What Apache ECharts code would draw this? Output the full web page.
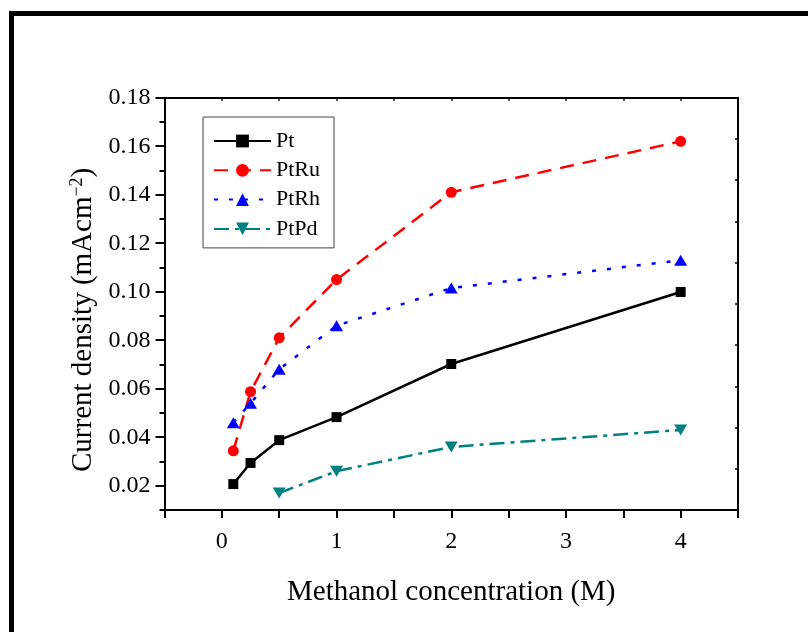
<!DOCTYPE html>
<html>
<head>
<meta charset="utf-8">
<script src="https://cdn.jsdelivr.net/npm/echarts@6/dist/echarts.min.js"></script>
<style>
  html, body { margin: 0; padding: 0; background: #fff; }
  #chart { width: 808px; height: 632px; }
</style>
</head>
<body>
<div id="chart"></div>
<script>
// methanol concentration (M)
const conc = [0.1, 0.25, 0.5, 1, 2, 4];
const ptVals = [0.0207, 0.0294, 0.0388, 0.0483, 0.0702, 0.0999];
const ptRuVals = [0.0344, 0.0588, 0.081, 0.105, 0.141, 0.162];
const ptRhVals = [0.046, 0.054, 0.068, 0.086, 0.1015, 0.113];
const ptPdConc = [0.5, 1, 2, 4];
const ptPdVals = [0.017, 0.026, 0.036, 0.043];
const yMajorTicks = [0.02, 0.04, 0.06, 0.08, 0.10, 0.12, 0.14, 0.16, 0.18];

const FONT = "Liberation Serif";
const pairs = (xs, ys) => xs.map((x, i) => [x, ys[i]]);

const chart = echarts.init(document.getElementById("chart"), null, { renderer: "canvas" });

chart.setOption({
  animation: false,
  backgroundColor: "#fff",
  textStyle: { fontFamily: FONT, color: "#000" },
  graphic: [
    { type: "rect", shape: { x: 9, y: 11, width: 799, height: 5 }, style: { fill: "#000" } },
    { type: "rect", shape: { x: 9, y: 11, width: 5, height: 621 }, style: { fill: "#000" } }
  ],
  grid: { left: 164.5, right: 70, top: 97.7, bottom: 122 },
  legend: {
    orient: "vertical",
    left: 203,
    top: 117,
    padding: [13, 14, 8, 10],
    itemGap: 7.3,
    itemWidth: 57,
    itemHeight: 16,
    borderColor: "#444",
    borderWidth: 1,
    textStyle: { fontFamily: FONT, fontSize: 22, color: "#000" },
    data: ["Pt", "PtRu", "PtRh", "PtPd"]
  },
  xAxis: [
    {
      type: "value",
      position: "bottom",
      min: -0.5,
      max: 4.5,
      interval: 0.5,
      name: "Methanol concentration (M)",
      nameLocation: "middle",
      nameGap: 68,
      nameTextStyle: { fontFamily: FONT, fontSize: 29, color: "#000" },
      axisLine: { onZero: false, lineStyle: { color: "#000", width: 2 } },
      axisTick: { inside: false, length: 8, lineStyle: { color: "#000", width: 2 } },
      axisLabel: {
        margin: 20,
        fontFamily: FONT,
        fontSize: 24,
        color: "#000",
        formatter: v => (Math.abs(v - Math.round(v)) < 1e-6 ? String(Math.round(v)) : "")
      },
      splitLine: { show: false }
    },
    {
      type: "value",
      position: "top",
      min: -0.5,
      max: 4.5,
      interval: 0.5,
      axisLine: { onZero: false, lineStyle: { color: "#000", width: 2 } },
      axisTick: { inside: true, length: 3, lineStyle: { color: "#000", width: 1.5 } },
      axisLabel: { show: false },
      splitLine: { show: false }
    }
  ],
  yAxis: [
    {
      type: "value",
      position: "left",
      min: 0.01,
      max: 0.18,
      interval: 0.01,
      name: "Current density (mAcm{sup|\u22122})",
      nameLocation: "middle",
      nameGap: 64,
      nameTextStyle: {
        fontFamily: FONT,
        fontSize: 29,
        color: "#000",
        padding: [0, 32, 0, 0],
        rich: {
          sup: { fontFamily: FONT, fontSize: 18, color: "#000", verticalAlign: "top", lineHeight: 14 }
        }
      },
      axisLine: { onZero: false, lineStyle: { color: "#000", width: 2 } },
      axisTick: { inside: false, length: 5, lineStyle: { color: "#000", width: 2 } },
      axisLabel: {
        margin: 14,
        fontFamily: FONT,
        fontSize: 24,
        color: "#000",
        formatter: v => (Math.round(v * 100) % 2 === 0 ? v.toFixed(2) : "")
      },
      splitLine: { show: false }
    },
    {
      type: "value",
      position: "left",
      min: 0.01,
      max: 0.18,
      axisLine: { show: false, onZero: false },
      axisTick: { inside: false, length: 9, customValues: yMajorTicks, lineStyle: { color: "#000", width: 2 } },
      axisLabel: { show: false },
      splitLine: { show: false }
    },
    {
      type: "value",
      position: "right",
      min: 0,
      max: 10,
      interval: 1,
      axisLine: { onZero: false, lineStyle: { color: "#000", width: 2 } },
      axisTick: { inside: true, length: 3, lineStyle: { color: "#000", width: 1.5 } },
      axisLabel: { show: false },
      splitLine: { show: false }
    }
  ],
  series: [
    {
      name: "Pt",
      type: "line",
      data: pairs(conc, ptVals),
      symbol: "rect",
      symbolSize: 10,
      color: "#000",
      itemStyle: { color: "#000" },
      lineStyle: { color: "#000", width: 2.5, type: "solid" }
    },
    {
      name: "PtRu",
      type: "line",
      data: pairs(conc, ptRuVals),
      symbol: "circle",
      symbolSize: 11,
      color: "#ff0000",
      itemStyle: { color: "#ff0000" },
      lineStyle: { color: "#ff0000", width: 2.5, type: [14, 9] }
    },
    {
      name: "PtRh",
      type: "line",
      data: pairs(conc, ptRhVals),
      symbol: "triangle",
      symbolSize: [13, 11],
      color: "#0000ff",
      itemStyle: { color: "#0000ff" },
      lineStyle: { color: "#0000ff", width: 2.5, type: [4, 11] }
    },
    {
      name: "PtPd",
      type: "line",
      data: pairs(ptPdConc, ptPdVals),
      symbol: "triangle",
      symbolRotate: 180,
      symbolSize: [13, 11],
      color: "#008080",
      itemStyle: { color: "#008080" },
      lineStyle: { color: "#008080", width: 2.5, type: [15, 6, 4, 6] }
    }
  ]
});
</script>
</body>
</html>
